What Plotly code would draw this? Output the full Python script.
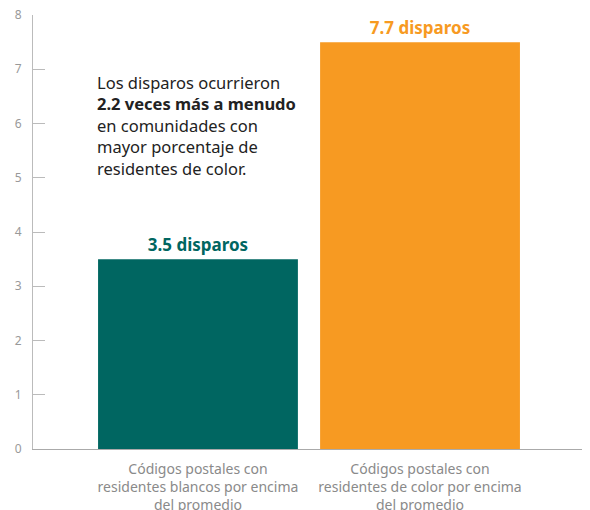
import plotly.graph_objects as go

categories = ["Códigos postales con<br>residentes blancos por encima<br>del promedio",
              "Códigos postales con<br>residentes de color por encima<br>del promedio"]
values = [3.5, 7.5]
bar_labels = ["3.5 disparos", "7.7 disparos"]
colors = ["#006661", "#F79A22"]
y_ticks = [0, 1, 2, 3, 4, 5, 6, 7, 8]

FONT = "Noto Sans"

fig = go.Figure()
fig.add_trace(go.Bar(
    x=[0, 1], y=values, width=0.9,
    marker=dict(color=colors, line=dict(width=0)),
    text=["<b>%s</b>" % t for t in bar_labels],
    textposition="outside",
    textfont=dict(family=FONT, size=17, color=colors),
    cliponaxis=False,
    hoverinfo="skip",
))

fig.update_layout(
    width=590, height=510,
    margin=dict(l=25, r=13, t=7, b=69),
    paper_bgcolor="white", plot_bgcolor="white",
    showlegend=False,
    font=dict(family=FONT),
    xaxis=dict(
        range=[-0.743, 1.743], automargin=False,
        tickmode="array", tickvals=[0, 1], ticktext=categories,
        tickfont=dict(family=FONT, size=14, color="#8a8a8a"),
        showgrid=False, zeroline=False,
        showline=True, linecolor="#aaaaaa", linewidth=1,
        ticks="", fixedrange=True, ticklabelstandoff=7,
        ticklabeloverflow="allow",
    ),
    yaxis=dict(
        range=[0, 8], automargin=False,
        tickmode="array", tickvals=y_ticks,
        tickfont=dict(family=FONT, size=12, color="#999999"),
        showgrid=False, zeroline=False,
        showline=True, linecolor="#bbbbbb", linewidth=1,
        ticks="inside", ticklen=12, tickcolor="#bbbbbb", tickwidth=1,
        ticklabelstandoff=8, ticklabeloverflow="allow",
    ),
    bargap=0.1,
)

# small end tick on the x axis at the right edge
fig.add_shape(type="line", xref="paper", yref="paper", x0=1, x1=1, y0=0, y1=0.02,
              line=dict(color="#aaaaaa", width=1))

fig.add_annotation(
    xref="x", yref="y", x=-0.464, y=7.0, xanchor="left", yanchor="top",
    align="left", showarrow=False,
    text="Los disparos ocurrieron<br><b>2.2 veces más a menudo</b><br>en comunidades con<br>mayor porcentaje de<br>residentes de color.",
    font=dict(family=FONT, size=16.5, color="#222222"),
)

fig.write_html("out.html")
